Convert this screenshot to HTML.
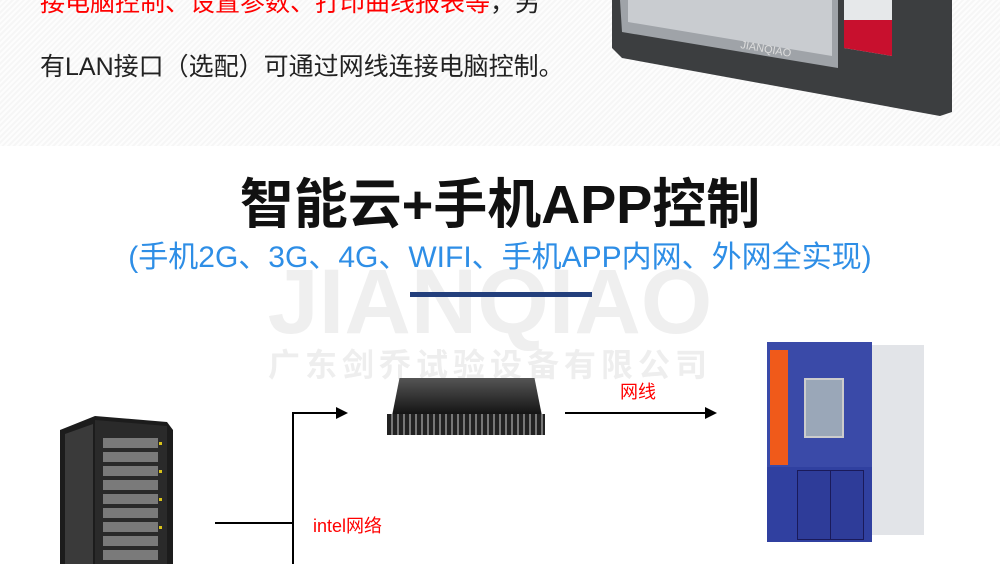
<!DOCTYPE html>
<html><head><meta charset="utf-8"><style>
body{margin:0;width:1000px;height:564px;overflow:hidden;background:#fff;position:relative;font-family:"Liberation Sans","Noto Sans CJK SC",sans-serif}
.a{position:absolute;white-space:nowrap}
.top{position:absolute;left:0;top:0;width:1000px;height:146px;background:repeating-linear-gradient(135deg,#f6f6f6 0 2px,#fdfdfd 2px 4px)}
.ln{position:absolute;background:#000}
</style></head><body>
<div class="top"></div>
<div class="a" style="left:40px;top:-17px;font-size:25px;color:#f00">接电脑控制、设置参数、打印曲线报表等<span style="color:#222">，另</span></div>
<div class="a" style="left:40px;top:47px;font-size:25px;color:#222">有LAN接口（选配）可通过网线连接电脑控制。</div>
<!-- panel -->
<svg class="a" style="left:600px;top:0" width="360" height="130">
<polygon points="12,0 352,0 352,112 340,116 22,58 12,48" fill="#3c3e40"/>
<polygon points="20,0 238,0 238,68 22,32" fill="#9fa3a8"/>
<polygon points="28,0 232,0 232,56 28,22" fill="#c9ccd0"/>
<polygon points="244,0 292,0 292,56 244,48" fill="#e6e8ea"/>
<polygon points="244,20 292,20 292,56 244,48" fill="#c8102e"/>
<text x="140" y="48" font-size="11" fill="#ddd" font-family="Liberation Sans" transform="rotate(10 140 48)">JIANQIAO</text>
</svg>
<!-- title -->
<div class="a" style="left:-10px;width:1000px;text-align:center;top:250px;font-size:92px;font-weight:bold;color:#efefef">JIANQIAO</div>
<div class="a" style="left:0;width:1000px;text-align:center;top:160px;font-size:54px;font-weight:bold;color:#111">智能云+手机APP控制</div>
<div class="a" style="left:0;width:1000px;text-align:center;top:232px;font-size:30px;color:#2e8ee6">(手机2G、3G、4G、WIFI、手机APP内网、外网全实现)</div>
<div class="a" style="left:410px;top:292px;width:182px;height:5px;background:#233f7c"></div>
<div class="a" style="left:268px;top:340px;font-size:32px;font-weight:bold;color:#eeeeee;letter-spacing:5px">广东剑乔试验设备有限公司</div>
<!-- server -->
<svg class="a" style="left:55px;top:410px" width="125" height="154">
<polygon points="5,20 40,6 112,12 118,20 118,154 5,154" fill="#1c1c1c"/>
<polygon points="40,10 112,16 112,154 40,154" fill="#2a2a2a"/>
<g fill="#7a7a7a">
<rect x="48" y="28" width="55" height="10"/><rect x="48" y="42" width="55" height="10"/><rect x="48" y="56" width="55" height="10"/><rect x="48" y="70" width="55" height="10"/><rect x="48" y="84" width="55" height="10"/><rect x="48" y="98" width="55" height="10"/><rect x="48" y="112" width="55" height="10"/><rect x="48" y="126" width="55" height="10"/><rect x="48" y="140" width="55" height="10"/>
</g>
<g fill="#d8c21a"><rect x="104" y="32" width="3" height="3"/><rect x="104" y="60" width="3" height="3"/><rect x="104" y="88" width="3" height="3"/><rect x="104" y="116" width="3" height="3"/></g>
<polygon points="10,24 38,14 38,154 10,154" fill="#3a3a3a"/>
</svg>
<!-- switch -->
<div class="a" style="left:392px;top:378px;width:150px;height:38px;background:linear-gradient(180deg,#555,#111);clip-path:polygon(5% 0,95% 0,100% 100%,0 100%)"></div>
<div class="a" style="left:387px;top:414px;width:158px;height:21px;background:repeating-linear-gradient(90deg,#222 0 4px,#777 4px 6px)"></div>
<!-- chamber -->
<div class="a" style="left:862px;top:345px;width:62px;height:190px;background:#e2e4e8"></div>
<div class="a" style="left:767px;top:342px;width:105px;height:125px;background:#3a4aa8"></div>
<div class="a" style="left:767px;top:467px;width:105px;height:75px;background:#3040a0"></div>
<div class="a" style="left:770px;top:350px;width:18px;height:115px;background:#f05a1a"></div>
<div class="a" style="left:804px;top:378px;width:36px;height:56px;background:#9aa7b8;border:2px solid #ccc"></div>
<div class="a" style="left:797px;top:470px;width:32px;height:68px;background:#2e3c99;border:1px solid #1a1a5a"></div>
<div class="a" style="left:830px;top:470px;width:32px;height:68px;background:#2e3c99;border:1px solid #1a1a5a"></div>
<!-- lines -->
<div class="ln" style="left:215px;top:522px;width:79px;height:2px"></div>
<div class="ln" style="left:292px;top:412px;width:2px;height:152px"></div>
<div class="ln" style="left:292px;top:412px;width:46px;height:2px"></div>
<div class="a" style="left:336px;top:407px;border-left:12px solid #000;border-top:6px solid transparent;border-bottom:6px solid transparent"></div>
<div class="ln" style="left:565px;top:412px;width:142px;height:2px"></div>
<div class="a" style="left:705px;top:407px;border-left:12px solid #000;border-top:6px solid transparent;border-bottom:6px solid transparent"></div>
<div class="a" style="left:620px;top:378px;font-size:18px;color:#f00">网线</div>
<div class="a" style="left:313px;top:512px;font-size:18px;color:#f00">intel网络</div>
</body></html>
